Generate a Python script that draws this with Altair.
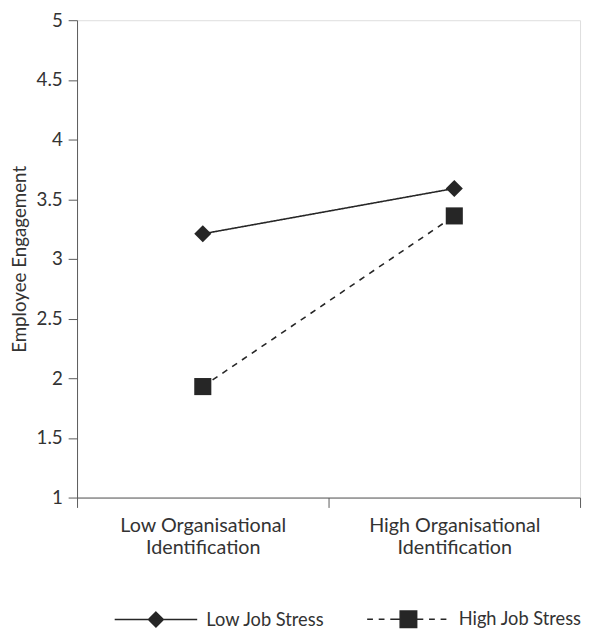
import altair as alt
import pandas as pd

# ---- data ----
org_levels = ["Low Organisational Identification", "High Organisational Identification"]
series_names = ["Low Job Stress", "High Job Stress"]
low_stress = [3.21, 3.59]
high_stress = [1.93, 3.36]

rows = []
for i, o in enumerate(org_levels):
    rows.append({"org": o, "series": series_names[0], "value": low_stress[i]})
    rows.append({"org": o, "series": series_names[1], "value": high_stress[i]})
df = pd.DataFrame(rows)

INK = "#262626"
AXIS = "#595959"
TXT = "#333333"
FONT = "Lato"
FS = 19

x_enc = alt.X(
    "org:N",
    sort=org_levels,
    scale=alt.Scale(domain=org_levels, paddingInner=0, paddingOuter=0),
    axis=alt.Axis(
        title=None,
        labelAngle=0,
        tickBand="extent",
        tickSize=10,
        labelPadding=8,
        labelFontSize=20,
        labelLineHeight=23,
        labelExpr="datum.label ? [replace(datum.label, ' Identification', ''), 'Identification'] : ''",
        domainColor=AXIS,
        tickColor=AXIS,
        labelColor=TXT,
        labelFont=FONT,
        grid=False,
    ),
)
y_enc = alt.Y(
    "value:Q",
    scale=alt.Scale(domain=[1, 5], nice=False, zero=False),
    axis=alt.Axis(
        title="Employee Engagement",
        values=[1, 1.5, 2, 2.5, 3, 3.5, 4, 4.5, 5],
        format="~g",
        tickSize=9,
        labelPadding=6,
        labelFontSize=FS,
        labelColor=TXT,
        labelFont=FONT,
        titleFont=FONT,
        titleFontSize=FS,
        titleFontWeight="normal",
        titleColor=TXT,
        titlePadding=7,
        domainColor=AXIS,
        tickColor=AXIS,
        grid=False,
    ),
)

base = alt.Chart(df)

lines = base.mark_line(color=INK, strokeWidth=1.6).encode(
    x=x_enc,
    y=y_enc,
    detail="series:N",
    strokeDash=alt.StrokeDash(
        "series:N",
        scale=alt.Scale(domain=series_names, range=[[1, 0], [6, 6]]),
        legend=None,
    ),
)

points = base.mark_point(filled=True, color=INK, opacity=1, size=300).encode(
    x=x_enc,
    y=y_enc,
    shape=alt.Shape(
        "series:N",
        scale=alt.Scale(domain=series_names, range=["diamond", "square"]),
        legend=None,
    ),
)

# legend-only layer: line-with-marker symbols drawn as custom symbol paths
low_sym = "M-1,0H1M0,-0.18L0.18,0L0,0.18L-0.18,0Z"
high_sym = ("M-1,0H-0.86M-0.72,0H-0.58M-0.44,0H-0.2"
            "M-0.2,-0.2H0.2V0.2H-0.2Z"
            "M0.2,0H0.36M0.5,0H0.64M0.78,0H0.92")
legend_layer = base.transform_filter("datum.value < 0").mark_point(
    filled=True, fill=INK, stroke=INK, strokeWidth=1.5, opacity=1
).encode(
    x=x_enc,
    y=y_enc,
    shape=alt.Shape(
        "series:N",
        scale=alt.Scale(domain=series_names, range=[low_sym, high_sym]),
        legend=alt.Legend(
            title=None,
            orient="none",
            direction="horizontal",
            legendX=37,
            legendY=564,
            symbolSize=7000,
            symbolStrokeWidth=1.5,
            symbolOpacity=1,
            labelFontSize=18.5,
            labelFont=FONT,
            labelColor=TXT,
            labelOffset=8,
            columnPadding=40,
        ),
    ),
)

chart = (
    alt.layer(lines, points, legend_layer)
    .resolve_scale(shape="independent")
    .properties(
        width=510,
        height=484,
        autosize=alt.AutoSizeParams(type="none"),
        padding={"left": 70, "top": 8, "right": 3, "bottom": 136},
    )
    .configure_view(stroke=None)
    .configure(font=FONT)
)

chart.save("out.html", embed_options={"renderer": "svg", "actions": False})
